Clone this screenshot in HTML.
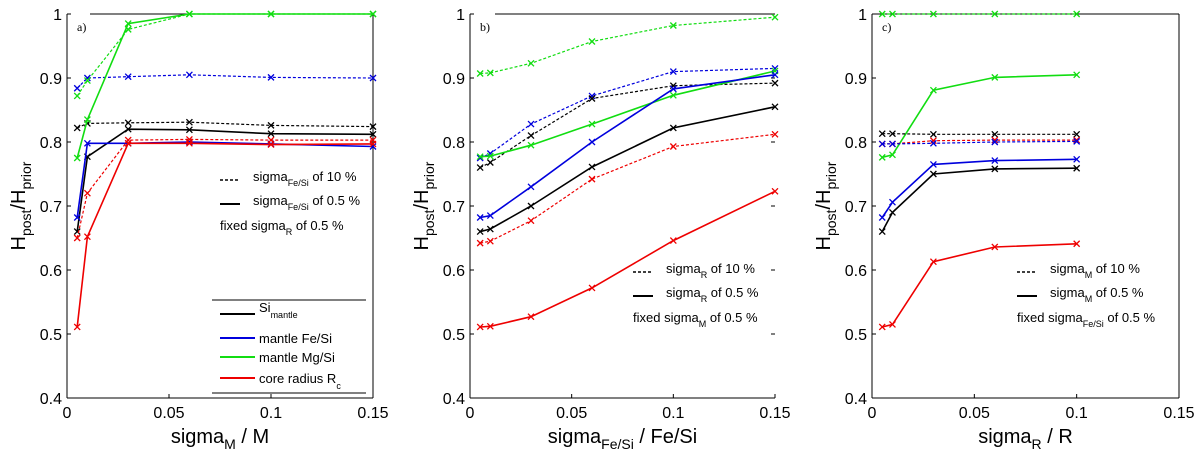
<!DOCTYPE html>
<html><head><meta charset="utf-8"><style>
body{margin:0;background:#fff;}
svg{display:block;font-family:"Liberation Sans",sans-serif;}
</style></head><body>
<svg id="fig" width="1200" height="458" viewBox="0 0 1200 458" xmlns="http://www.w3.org/2000/svg"></svg>
<script>
const xA=[0.005,0.01,0.03,0.06,0.1,0.15];
const xC=[0.005,0.01,0.03,0.06,0.1];
const yTicks=[0.4,0.5,0.6,0.7,0.8,0.9,1];
const yTickLabels=["0.4","0.5","0.6","0.7","0.8","0.9","1"];
const xTicks=[0,0.05,0.1,0.15];
const xTickLabels=["0","0.05","0.1","0.15"];
// panel a
const aBlackD=[.822,.829,.830,.831,.826,.824];
const aBlackS=[.66,.777,.820,.819,.813,.812];
const aBlueD=[.884,.900,.902,.905,.901,.900];
const aBlueS=[.682,.798,.798,.800,.797,.793];
const aGreenD=[.872,.896,.976,1.0,1.0,1.0];
const aGreenS=[.775,.835,.985,1.0,1.0,1.0];
const aRedD=[.65,.72,.803,.804,.803,.803];
const aRedS=[.511,.652,.798,.798,.796,.797];
// panel b
const bGreenD=[.907,.908,.923,.957,.982,.995];
const bBlueD=[.775,.782,.828,.872,.91,.915];
const bBlackD=[.76,.768,.81,.868,.888,.892];
const bGreenS=[.777,.778,.795,.828,.873,.911];
const bBlueS=[.682,.685,.73,.8,.883,.905];
const bBlackS=[.66,.664,.7,.761,.822,.855];
const bRedD=[.642,.645,.677,.742,.793,.812];
const bRedS=[.511,.512,.527,.572,.646,.723];
// panel c
const cGreenD=[1,1,1,1,1];
const cGreenS=[.776,.78,.881,.901,.905];
const cBlackD=[.813,.813,.812,.812,.812];
const cRedD=[.797,.797,.802,.803,.803];
const cBlueD=[.797,.797,.798,.800,.801];
const cBlueS=[.682,.706,.765,.771,.773];
const cBlackS=[.66,.69,.75,.758,.759];
const cRedS=[.511,.515,.613,.636,.641];

const NS="http://www.w3.org/2000/svg";
const svg=document.getElementById('fig');
function el(tag,attrs,parent){const e=document.createElementNS(NS,tag);for(const k in attrs)e.setAttribute(k,attrs[k]);(parent||svg).appendChild(e);return e;}
const COL={k:'#000',b:'#0000dd',g:'#11dd11',r:'#ee0000'};
const Y0=398,Y1=14;

function panel(id,x0,x1,topStart,rightLine,rightTicks,xs,series,label,xlabel,xsub,xsuffix,leg){
  const g=el('g',{});
  
  
  const sx=v=>x0+(v/0.15)*(x1-x0);
  const sy=v=>Y0+(v-0.4)/0.6*(Y1-Y0);
  el('line',{x1:x0,y1:Y0,x2:x1,y2:Y0,stroke:'#000'},g);
  el('line',{x1:x0,y1:Y0,x2:x0,y2:Y1,stroke:'#000'},g);
  el('line',{x1:topStart,y1:Y1,x2:x1,y2:Y1,stroke:'#000'},g);
  if(rightLine)el('line',{x1:x1,y1:Y0,x2:x1,y2:Y1,stroke:'#000'},g);
  yTicks.forEach((v,i)=>{
    const y=sy(v);
    el('line',{x1:x0,y1:y,x2:x0+4,y2:y,stroke:'#000'},g);
    if(rightTicks)el('line',{x1:x1-4,y1:y,x2:x1,y2:y,stroke:'#000'},g);
    const t=el('text',{x:x0-5,y:y+6,'text-anchor':'end','font-size':16},g);t.textContent=yTickLabels[i];
    
    
  });
  xTicks.forEach((v,i)=>{
    const x=sx(v);
    el('line',{x1:x,y1:Y0,x2:x,y2:Y0-4,stroke:'#000'},g);
    const t=el('text',{x:x,y:Y0+20,'text-anchor':'middle','font-size':16},g);t.textContent=xTickLabels[i];
    
    
  });
  series.forEach(s=>{
    const pts=xs.map((xv,i)=>sx(xv).toFixed(1)+','+sy(s.v[i]).toFixed(1)).join(' ');
    const p=el('polyline',{points:pts,fill:'none',stroke:COL[s.c],'stroke-width':s.d?1.2:1.6,'stroke-dasharray':s.d?'3,2':'none'},g);
    
    
    xs.forEach((xv,i)=>{
      const cx=sx(xv),cy=sy(s.v[i]);
      el('path',{d:`M${cx-3},${cy-3}L${cx+3},${cy+3}M${cx-3},${cy+3}L${cx+3},${cy-3}`,stroke:COL[s.c],'stroke-width':1.3},g);
    });
  });
  const pl=el('text',{x:x0+10,y:31,'font-size':12,'font-family':'Liberation Serif, serif'},g);pl.textContent=label;
  
  
  const yl=el('text',{transform:`translate(${x0-42},206) rotate(-90)`,'text-anchor':'middle','font-size':20},g);
  yl.innerHTML='H<tspan font-size="14" dy="6">post</tspan><tspan dy="-6">/H</tspan><tspan font-size="14" dy="6">prior</tspan>';
  
  
  const xl=el('text',{x:(x0+x1)/2,y:443,'text-anchor':'middle','font-size':20},g);
  xl.innerHTML=xlabel+'<tspan font-size="14" dy="6">'+xsub+'</tspan><tspan dy="-6">'+xsuffix+'</tspan>';
  
  
  // line-style legend
  const lg=el('g',{},g);
  
  
  el('line',{x1:leg.x,y1:leg.y,x2:leg.x+20,y2:leg.y,stroke:'#000','stroke-width':1.5,'stroke-dasharray':'3,2'},lg);
  el('line',{x1:leg.x,y1:leg.y+24,x2:leg.x+20,y2:leg.y+24,stroke:'#000','stroke-width':2},lg);
  const t1=el('text',{x:leg.x+33,y:leg.y+1,'font-size':13},lg);t1.innerHTML='sigma<tspan font-size="9" dy="5">'+leg.s+'</tspan><tspan dy="-5"> of 10 %</tspan>';
  const t2=el('text',{x:leg.x+33,y:leg.y+25,'font-size':13},lg);t2.innerHTML='sigma<tspan font-size="9" dy="5">'+leg.s+'</tspan><tspan dy="-5"> of 0.5 %</tspan>';
  const t3=el('text',{x:leg.x,y:leg.y+50,'font-size':13},lg);t3.innerHTML='fixed sigma<tspan font-size="9" dy="5">'+leg.f+'</tspan><tspan dy="-5"> of 0.5 %</tspan>';
  return {sx,sy,g};
}

const A=panel('a',67,373,90,true,false,xA,[
 {n:'si-mantle-dashed',c:'k',d:1,v:aBlackD},{n:'si-mantle-solid',c:'k',d:0,v:aBlackS},
 {n:'fesi-dashed',c:'b',d:1,v:aBlueD},{n:'fesi-solid',c:'b',d:0,v:aBlueS},
 {n:'mgsi-dashed',c:'g',d:1,v:aGreenD},{n:'mgsi-solid',c:'g',d:0,v:aGreenS},
 {n:'core-radius-dashed',c:'r',d:1,v:aRedD},{n:'core-radius-solid',c:'r',d:0,v:aRedS}],
 'a)','sigma','M',' / M',{x:220,y:180,s:'Fe/Si',f:'R'});
panel('b',470,775,495,false,true,xA,[
 {n:'mgsi-dashed',c:'g',d:1,v:bGreenD},{n:'fesi-dashed',c:'b',d:1,v:bBlueD},
 {n:'si-mantle-dashed',c:'k',d:1,v:bBlackD},{n:'mgsi-solid',c:'g',d:0,v:bGreenS},
 {n:'fesi-solid',c:'b',d:0,v:bBlueS},{n:'si-mantle-solid',c:'k',d:0,v:bBlackS},
 {n:'core-radius-dashed',c:'r',d:1,v:bRedD},{n:'core-radius-solid',c:'r',d:0,v:bRedS}],
 'b)','sigma','Fe/Si',' / Fe/Si',{x:633,y:272,s:'R',f:'M'});
panel('c',872,1179,872,true,false,xC,[
 {n:'mgsi-dashed',c:'g',d:1,v:cGreenD},{n:'mgsi-solid',c:'g',d:0,v:cGreenS},
 {n:'si-mantle-dashed',c:'k',d:1,v:cBlackD},{n:'core-radius-dashed',c:'r',d:1,v:cRedD},
 {n:'fesi-dashed',c:'b',d:1,v:cBlueD},{n:'fesi-solid',c:'b',d:0,v:cBlueS},
 {n:'si-mantle-solid',c:'k',d:0,v:cBlackS},{n:'core-radius-solid',c:'r',d:0,v:cRedS}],
 'c)','sigma','R',' / R',{x:1017,y:272,s:'M',f:'Fe/Si'});

// color legend in panel a
const L=el('g',{});


el('line',{x1:212,y1:300,x2:366,y2:300,stroke:'#000'},L);
el('line',{x1:212,y1:393,x2:366,y2:393,stroke:'#000'},L);
const legItems=[['k','Si','mantle',314],['b','mantle Fe/Si','',338],['g','mantle Mg/Si','',357],['r','core radius R','c',378]];
legItems.forEach(it=>{
  const e=el('g',{},L);
  
  
  el('line',{x1:220,y1:it[3],x2:255,y2:it[3],stroke:COL[it[0]],'stroke-width':2},e);
  const t=el('text',{x:259,y:it[3]+(it[2]==='mantle'?-2:5),'font-size':13},e);
  t.innerHTML=it[1]+(it[2]?'<tspan font-size="9" dy="6">'+it[2]+'</tspan>':'');
});
</script>
</body></html>
